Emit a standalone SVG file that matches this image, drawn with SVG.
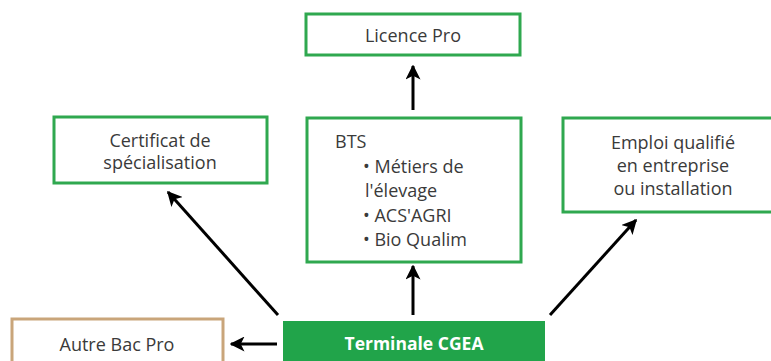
<svg xmlns="http://www.w3.org/2000/svg" width="771" height="361" viewBox="0 0 771 361">
<defs>
<style>
.box{fill:#fff;stroke:#2fa84f;stroke-width:3}
.alt{fill:#fff;stroke:#c9a57a;stroke-width:3}
.main{fill:#21a44a}
.t{font-family:"Open Sans",Lato,"Liberation Sans",sans-serif;font-size:18px;fill:#3a3a3a}
.c{text-anchor:middle}
.w{fill:#fff;font-weight:bold;font-size:17.5px}
.con{stroke:#000;stroke-width:3;fill:none;marker-end:url(#ah)}
</style>
<marker id="ah" viewBox="0 0 10 10" refX="9" refY="5" markerWidth="5" markerHeight="5" orient="auto" markerUnits="strokeWidth">
<path d="M0,0 L10,5 L0,10 L2.5,5 z" fill="#000"/>
</marker>
</defs>
<rect width="771" height="361" fill="#fff"/>
<g id="connectors">
<line class="con" x1="413" y1="110" x2="413" y2="66"/>
<line class="con" x1="413" y1="315" x2="413" y2="266"/>
<line class="con" x1="278" y1="315" x2="168" y2="192"/>
<line class="con" x1="550" y1="315" x2="636" y2="220"/>
<line class="con" x1="277" y1="344" x2="231" y2="344"/>
</g>
<g id="licence">
<rect class="box" x="306" y="14" width="214" height="41"/>
<text class="t c" x="413" y="42">Licence Pro</text>
</g>
<g id="bts">
<rect class="box" x="307" y="118" width="214" height="144"/>
<text class="t" x="335" y="148" fill="#222">BTS</text>
<text class="t" x="363" y="173">• Métiers de</text>
<text class="t" x="365" y="197">l'élevage</text>
<text class="t" x="363" y="222">• ACS'AGRI</text>
<text class="t" x="363" y="246">• Bio Qualim</text>
</g>
<g id="certificat">
<rect class="box" x="54" y="117" width="213" height="66"/>
<text class="t c" x="160" y="147">Certificat de</text>
<text class="t c" x="160" y="169">spécialisation</text>
</g>
<g id="emploi">
<rect class="box" x="563" y="118" width="210" height="94"/>
<text class="t c" x="673" y="149">Emploi qualifié</text>
<text class="t c" x="673" y="172">en entreprise</text>
<text class="t c" x="673" y="195">ou installation</text>
</g>
<g id="autre">
<rect class="alt" x="12" y="319" width="211" height="50"/>
<text class="t c" x="117" y="351">Autre Bac Pro</text>
</g>
<g id="terminale">
<rect class="main" x="283" y="321" width="262" height="45"/>
<text class="t c w" x="414" y="350">Terminale CGEA</text>
</g>
</svg>
